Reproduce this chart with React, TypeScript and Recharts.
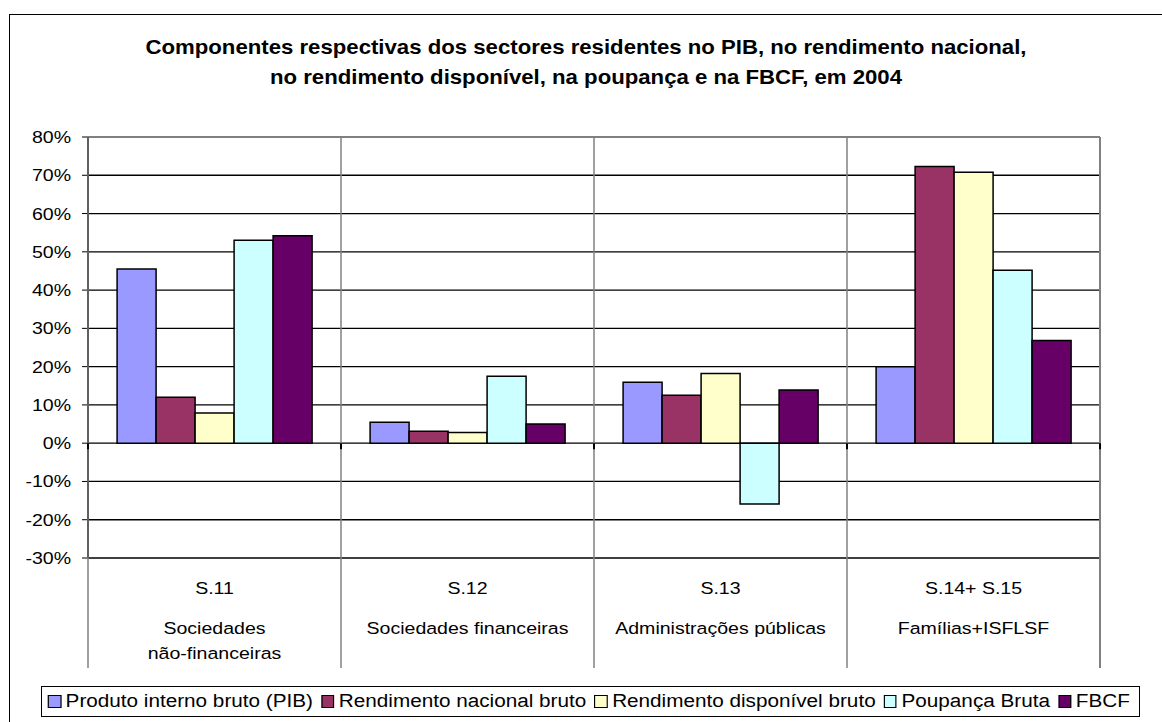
import { Bar, BarChart, CartesianGrid, Legend, ReferenceLine, XAxis, YAxis } from "recharts";

const categories = ["S.11", "S.12", "S.13", "S.14+ S.15"];
const categoryNames = [
  ["Sociedades", "não-financeiras"],
  ["Sociedades financeiras"],
  ["Administrações públicas"],
  ["Famílias+ISFLSF"],
];

// % of total
const pib = [45.5, 5.5, 15.9, 20.0];
const rnb = [12.0, 3.1, 12.5, 72.3];
const rdb = [7.9, 2.8, 18.2, 70.8];
const poupanca = [53.0, 17.5, -15.9, 45.2];
const fbcf = [54.2, 5.0, 13.9, 26.8];

const yTicks = [-30, -20, -10, 0, 10, 20, 30, 40, 50, 60, 70, 80];

const series = [
  { key: "pib", name: "Produto interno bruto (PIB)", values: pib, color: "#9999FF" },
  { key: "rnb", name: "Rendimento nacional bruto", values: rnb, color: "#993366" },
  { key: "rdb", name: "Rendimento disponível bruto", values: rdb, color: "#FFFFCC" },
  { key: "poupanca", name: "Poupança Bruta", values: poupanca, color: "#CCFFFF" },
  { key: "fbcf", name: "FBCF", values: fbcf, color: "#660066" },
];

const data = categories.map((code, i) => {
  const row: Record<string, string | number> = { code };
  series.forEach((s) => (row[s.key] = s.values[i]));
  return row;
});

const W = 1162;
const H = 722;
const PLOT_LEFT = 88;
const PLOT_TOP = 137;
const PLOT_RIGHT = 1100;
const PLOT_BOTTOM = 558;
const Y_AXIS_W = 80;
const X_AXIS_H = 110;
const Y_MIN = yTicks[0];
const Y_MAX = yTicks[yTicks.length - 1];
const SX = 1.15; // the source text is a little stretched sideways
const FONT = "'Liberation Sans', Arial, sans-serif";

function YTick({ x, y, payload }: any) {
  return (
    <text
      transform={`translate(${x},${y}) scale(${SX},1)`}
      textAnchor="end"
      dominantBaseline="central"
      fontSize={17}
      fontFamily={FONT}
      fill="#000"
    >
      {payload.value}%
    </text>
  );
}

function CategoryTick({ x, y, payload, index }: any) {
  const half = payload.offset || (PLOT_RIGHT - PLOT_LEFT) / categories.length / 2;
  const left = x - half;
  const right = x + half;
  const zeroY = PLOT_TOP + ((Y_MAX - 0) / (Y_MAX - Y_MIN)) * (PLOT_BOTTOM - PLOT_TOP);
  const bottom = y + X_AXIS_H;
  const isLast = index === categories.length - 1;
  const names = categoryNames[index] || [];
  return (
    <g>
      <line x1={left} x2={left} y1={PLOT_TOP} y2={bottom} stroke="#808080" strokeWidth={1.5} />
      {isLast && <line x1={right} x2={right} y1={PLOT_TOP} y2={bottom} stroke="#808080" strokeWidth={2} />}
      <line x1={left} x2={left} y1={zeroY} y2={zeroY + 6} stroke="#000" strokeWidth={2} />
      {isLast && <line x1={right} x2={right} y1={zeroY} y2={zeroY + 6} stroke="#000" strokeWidth={2} />}
      <text
        transform={`translate(${x},${y + 30}) scale(${SX},1)`}
        textAnchor="middle"
        dominantBaseline="central"
        fontSize={17}
        fontFamily={FONT}
        fill="#000"
      >
        {payload.value}
      </text>
      {names.map((line: string, i: number) => (
        <text
          key={line}
          transform={`translate(${x},${y + 70 + i * 25}) scale(${SX},1)`}
          textAnchor="middle"
          dominantBaseline="central"
          fontSize={17}
          fontFamily={FONT}
          fill="#000"
        >
          {line}
        </text>
      ))}
    </g>
  );
}

function LegendBox() {
  return (
    <div
      style={{
        boxSizing: "border-box",
        width: "100%",
        height: "100%",
        border: "1px solid #000",
        background: "#fff",
        overflow: "hidden",
      }}
    >
      <div
        style={{
          display: "flex",
          alignItems: "center",
          height: "100%",
          paddingLeft: 5,
          transform: `scaleX(${SX})`,
          transformOrigin: "left center",
          whiteSpace: "nowrap",
          fontFamily: FONT,
          fontSize: 18,
          color: "#000",
        }}
      >
        {series.map((s) => (
          <span key={s.key} style={{ display: "inline-flex", alignItems: "center", marginRight: 7 }}>
            <span
              style={{
                display: "inline-block",
                boxSizing: "border-box",
                width: 11.5,
                height: 13,
                border: "1.5px solid #000",
                background: s.color,
                marginRight: 4,
              }}
            />
            {s.name}
          </span>
        ))}
      </div>
    </div>
  );
}

export default function App() {
  return (
    <div style={{ position: "absolute", left: 0, top: 0, width: W, height: H, overflow: "hidden", background: "#fff" }}>
      <div
        style={{
          position: "absolute",
          left: 9,
          top: 14,
          width: W + 40,
          height: H + 40,
          border: "1px solid #000",
        }}
      />
      <div
        style={{
          position: "absolute",
          left: 0,
          top: 33,
          width: 1172,
          textAlign: "center",
          fontFamily: FONT,
          fontWeight: "bold",
          fontSize: 19.3,
          lineHeight: "30px",
          transform: `scaleX(${SX})`,
          transformOrigin: "center",
        }}
      >
        Componentes respectivas dos sectores residentes no PIB, no rendimento nacional,
        <br />
        no rendimento disponível, na poupança e na FBCF, em 2004
      </div>
      <div style={{ position: "absolute", left: 0, top: 0 }}>
        <BarChart
          width={W}
          height={H}
          data={data}
          margin={{
            top: PLOT_TOP,
            right: W - PLOT_RIGHT,
            bottom: H - PLOT_BOTTOM - X_AXIS_H,
            left: PLOT_LEFT - Y_AXIS_W,
          }}
          barCategoryGap="11.5%"
          barGap={0}
        >
          <CartesianGrid vertical={false} stroke="#000" strokeWidth={1.3} />
          <ReferenceLine y={Y_MAX} stroke="#808080" strokeWidth={2} />
          <XAxis
            dataKey="code"
            axisLine={false}
            tickLine={false}
            tickSize={0}
            tickMargin={0}
            height={X_AXIS_H}
            interval={0}
            tick={<CategoryTick />}
          />
          <YAxis
            width={Y_AXIS_W}
            domain={[Y_MIN, Y_MAX]}
            ticks={yTicks}
            interval={0}
            axisLine={{ stroke: "#000", strokeWidth: 2 }}
            tickLine={{ stroke: "#000", strokeWidth: 1 }}
            tickSize={6}
            tickMargin={11}
            tick={<YTick />}
          />
          <Legend
            verticalAlign="middle"
            align="center"
            layout="horizontal"
            wrapperStyle={{ left: 41, top: 686, width: 1099, height: 31 }}
            content={() => <LegendBox />}
          />
          {series.map((s) => (
            <Bar
              key={s.key}
              dataKey={s.key}
              name={s.name}
              fill={s.color}
              stroke="#000"
              strokeWidth={1.5}
              isAnimationActive={false}
            />
          ))}
        </BarChart>
      </div>
    </div>
  );
}
